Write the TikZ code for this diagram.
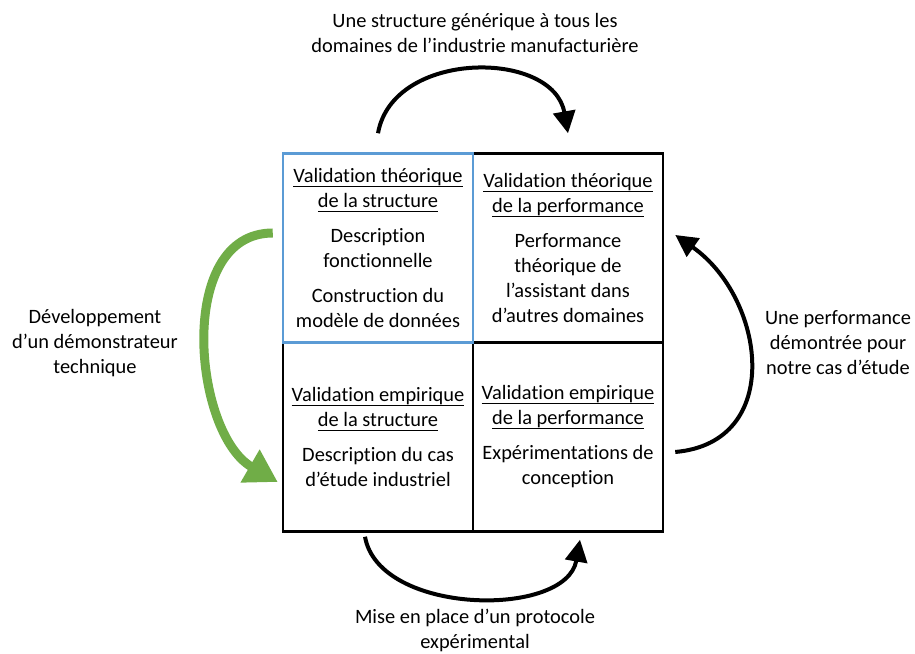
\documentclass[tikz,border=0pt]{standalone}
\usepackage{fontspec}
\setmainfont{Carlito}[RawFeature={-liga;-clig;-calt;-dlig}]
\usetikzlibrary{arrows.meta}
\definecolor{officeblue}{RGB}{91,155,213}
\definecolor{officegreen}{RGB}{112,173,71}
\newcommand{\titre}[1]{\setbox0\hbox{#1}\leavevmode\rlap{\raisebox{-4.5pt}{\rule{\wd0}{1.3pt}}}\box0}
\tikzset{
    cell/.style={draw=black, line width=2.5pt, minimum width=190pt, minimum height=189pt,
        inner sep=0pt, align=center},
    cycle arrow/.style={line width=4pt, -{Triangle[length=22pt,width=22pt]}},
    green arrow/.style={officegreen, line width=9pt, -{Triangle[length=32pt,width=36pt]}},
    side text/.style={align=center}
}

\begin{document}
\begin{tikzpicture}[x=1pt,y=1pt,font=\fontsize{20.4}{25}\selectfont]
                \useasboundingbox (0,0) rectangle (915,653);
                %% cells
                \node[cell] (thperf) at (568,405) {\titre{Validation théorique}\\ \titre{de la performance}\\[10pt]
                    Performance\\ théorique de\\ l’assistant dans\\ d’autres domaines};
                \node[cell] (empstruct) at (378,216) {\titre{Validation empirique}\\ \titre{de la structure}\\[10pt]
                    Description du cas\\ d’étude industriel};
                \node[cell] (empperf) at (568,216) {\titre{Validation empirique}\\ \titre{de la performance}\\[10pt]
                    Expérimentations de\\ conception};
                \node[cell, draw=officeblue] (thstruct) at (378,405) {\titre{Validation théorique}\\ \titre{de la structure}\\[10pt]
                    Description\\ fonctionnelle\\[10pt] Construction du\\ modèle de données};
                %% cycle
                \draw[cycle arrow] ([yshift=19pt]thstruct.north) to[out=80,in=100,looseness=1.15] ([yshift=19pt]thperf.north);
                \draw[cycle arrow] ([xshift=11pt,yshift=-15pt]empperf.east) to[out=5,in=-35,looseness=1.3] ([xshift=11pt,yshift=13pt]thperf.east);
                \draw[cycle arrow] ([xshift=-13pt,yshift=-4pt]empstruct.south) to[out=-80,in=-100,looseness=0.95] ([xshift=12pt,yshift=-7pt]empperf.south);
                \draw[green arrow] ([xshift=-9pt,yshift=15pt]thstruct.west) to[out=180,in=150] ([xshift=-4pt,yshift=-45pt]empstruct.west);
                %% labels
                \node[side text] (toplabel) at (475,620) {Une structure générique à tous les\\ domaines de l’industrie manufacturière};
                \node[side text] (leftlabel) at (95,310) {Développement\\ d’un démonstrateur\\ technique};
                \node[side text] (rightlabel) at (838,310) {Une performance\\ démontrée pour\\ notre cas d’étude};
                \node[side text] (bottomlabel) at (475,23) {Mise en place d’un protocole\\ expérimental};
            \end{tikzpicture}
\end{document}
